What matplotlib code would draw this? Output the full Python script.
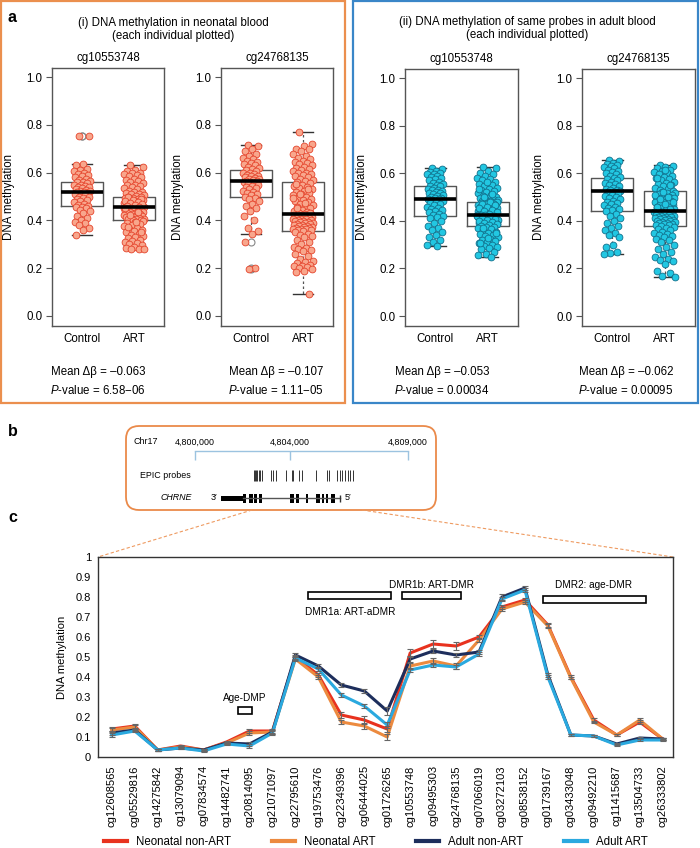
import numpy as np
import matplotlib.pyplot as plt
from matplotlib.patches import Rectangle, FancyBboxPatch
from matplotlib.lines import Line2D

plt.rcParams['font.family'] = ['Liberation Sans', 'DejaVu Sans']
plt.rcParams['mathtext.fontset'] = 'custom'
plt.rcParams['mathtext.rm'] = 'Liberation Sans'
plt.rcParams['mathtext.it'] = 'Liberation Sans:italic'

# ---------------- data: panel a (each individual) ----------------
groups = ['Control', 'ART']
probes_a = ['cg10553748', 'cg24768135']

neo1_ctrl = [0.755, 0.752, 0.635, 0.63, 0.615, 0.61, 0.605, 0.60, 0.595, 0.59, 0.585, 0.58, 0.575, 0.57,
             0.565, 0.56, 0.56, 0.555, 0.55, 0.548, 0.545, 0.54, 0.538, 0.535, 0.53, 0.528, 0.525, 0.522,
             0.52, 0.518, 0.515, 0.512, 0.51, 0.505, 0.50, 0.498, 0.495, 0.49, 0.485, 0.48, 0.475, 0.47,
             0.465, 0.46, 0.458, 0.455, 0.45, 0.445, 0.44, 0.43, 0.42, 0.41, 0.40, 0.395, 0.39, 0.38,
             0.37, 0.36, 0.34]
neo1_art = [0.63, 0.625, 0.61, 0.605, 0.60, 0.60, 0.595, 0.59, 0.585, 0.58, 0.575, 0.57, 0.565, 0.56,
            0.555, 0.55, 0.548, 0.545, 0.54, 0.535, 0.53, 0.525, 0.52, 0.518, 0.515, 0.512, 0.51, 0.505,
            0.502, 0.50, 0.498, 0.495, 0.493, 0.49, 0.488, 0.485, 0.483, 0.48, 0.478, 0.475, 0.473, 0.47,
            0.468, 0.466, 0.464, 0.462, 0.46, 0.458, 0.457, 0.456, 0.497, 0.491, 0.486, 0.481, 0.476,
            0.471, 0.467, 0.463, 0.459, 0.455, 0.453, 0.45, 0.448, 0.446, 0.444, 0.442, 0.44, 0.438,
            0.436, 0.434, 0.432, 0.43, 0.428, 0.426, 0.424, 0.422, 0.42, 0.418, 0.416, 0.414, 0.412,
            0.41, 0.408, 0.406, 0.404, 0.402, 0.40, 0.451, 0.437, 0.421, 0.398, 0.395, 0.39, 0.385,
            0.38, 0.375, 0.37, 0.365, 0.36, 0.355, 0.35, 0.345, 0.34, 0.335, 0.33, 0.325, 0.32, 0.315,
            0.31, 0.305, 0.30, 0.295, 0.29, 0.285, 0.282, 0.28, 0.28, 0.392, 0.372, 0.352]
neo2_ctrl = [0.715, 0.71, 0.70, 0.69, 0.68, 0.67, 0.66, 0.655, 0.65, 0.645, 0.64, 0.635, 0.63, 0.625,
             0.62, 0.615, 0.61, 0.605, 0.60, 0.598, 0.595, 0.59, 0.588, 0.585, 0.58, 0.578, 0.575, 0.572,
             0.57, 0.567, 0.565, 0.562, 0.56, 0.558, 0.555, 0.55, 0.545, 0.54, 0.535, 0.53, 0.525, 0.52,
             0.515, 0.51, 0.505, 0.50, 0.495, 0.49, 0.48, 0.47, 0.46, 0.45, 0.44, 0.42, 0.40, 0.37,
             0.355, 0.345, 0.31, 0.20, 0.198]
neo2_art = [0.77, 0.72, 0.71, 0.70, 0.70, 0.69, 0.68, 0.67, 0.66, 0.655, 0.65, 0.645, 0.64, 0.635,
            0.63, 0.625, 0.62, 0.615, 0.61, 0.605, 0.60, 0.598, 0.595, 0.59, 0.585, 0.58, 0.575, 0.57,
            0.565, 0.56, 0.555, 0.55, 0.545, 0.54, 0.535, 0.53, 0.525, 0.52, 0.515, 0.51, 0.505, 0.50,
            0.495, 0.49, 0.485, 0.48, 0.475, 0.47, 0.465, 0.46, 0.455, 0.45, 0.445, 0.44, 0.435, 0.43,
            0.428, 0.426, 0.552, 0.532, 0.512, 0.492, 0.472, 0.452, 0.432, 0.424, 0.422, 0.42, 0.418,
            0.416, 0.414, 0.412, 0.41, 0.408, 0.406, 0.404, 0.402, 0.40, 0.398, 0.396, 0.394, 0.392,
            0.39, 0.388, 0.386, 0.384, 0.382, 0.38, 0.378, 0.376, 0.374, 0.372, 0.37, 0.368, 0.366,
            0.364, 0.362, 0.36, 0.358, 0.356, 0.35, 0.345, 0.34, 0.335, 0.33, 0.32, 0.31, 0.30, 0.29,
            0.285, 0.28, 0.275, 0.27, 0.26, 0.25, 0.24, 0.23, 0.225, 0.22, 0.215, 0.21, 0.21, 0.205,
            0.20, 0.195, 0.19, 0.185, 0.09]
adu1_ctrl = [0.62, 0.618, 0.61, 0.605, 0.60, 0.598, 0.595, 0.59, 0.585, 0.58, 0.575, 0.57, 0.565, 0.56,
             0.555, 0.55, 0.548, 0.545, 0.54, 0.535, 0.53, 0.528, 0.525, 0.52, 0.518, 0.515, 0.512, 0.51,
             0.505, 0.50, 0.498, 0.495, 0.492, 0.49, 0.488, 0.485, 0.48, 0.475, 0.47, 0.465, 0.46, 0.455,
             0.45, 0.445, 0.44, 0.435, 0.43, 0.425, 0.42, 0.415, 0.41, 0.40, 0.39, 0.38, 0.37, 0.36,
             0.355, 0.34, 0.33, 0.32, 0.31, 0.30, 0.295]
adu1_art = [0.625, 0.62, 0.61, 0.60, 0.595, 0.59, 0.58, 0.575, 0.57, 0.565, 0.56, 0.555, 0.55, 0.545,
            0.54, 0.535, 0.53, 0.525, 0.52, 0.515, 0.51, 0.505, 0.50, 0.498, 0.495, 0.492, 0.49, 0.488,
            0.485, 0.483, 0.48, 0.562, 0.532, 0.512, 0.502, 0.478, 0.476, 0.474, 0.472, 0.47, 0.468,
            0.466, 0.464, 0.462, 0.46, 0.458, 0.456, 0.454, 0.452, 0.45, 0.448, 0.446, 0.444, 0.442,
            0.44, 0.438, 0.436, 0.434, 0.432, 0.43, 0.428, 0.426, 0.477, 0.471, 0.465, 0.459, 0.453,
            0.447, 0.441, 0.435, 0.429, 0.424, 0.422, 0.42, 0.418, 0.416, 0.414, 0.412, 0.41, 0.408,
            0.406, 0.404, 0.402, 0.40, 0.398, 0.396, 0.394, 0.392, 0.39, 0.388, 0.386, 0.384, 0.382,
            0.38, 0.423, 0.419, 0.415, 0.411, 0.407, 0.403, 0.399, 0.395, 0.391, 0.387, 0.383, 0.378,
            0.375, 0.372, 0.37, 0.365, 0.36, 0.355, 0.35, 0.345, 0.34, 0.335, 0.33, 0.325, 0.32, 0.315,
            0.31, 0.305, 0.30, 0.295, 0.29, 0.285, 0.28, 0.27, 0.26, 0.255, 0.25, 0.368, 0.348, 0.328,
            0.308]
adu2_ctrl = [0.655, 0.65, 0.645, 0.64, 0.635, 0.63, 0.625, 0.62, 0.615, 0.61, 0.605, 0.60, 0.595, 0.59,
             0.585, 0.58, 0.575, 0.57, 0.565, 0.56, 0.555, 0.55, 0.545, 0.54, 0.535, 0.53, 0.528, 0.525,
             0.522, 0.52, 0.515, 0.51, 0.505, 0.50, 0.495, 0.49, 0.485, 0.48, 0.475, 0.47, 0.465, 0.46,
             0.455, 0.45, 0.445, 0.44, 0.43, 0.42, 0.41, 0.40, 0.39, 0.38, 0.37, 0.36, 0.35, 0.34, 0.33,
             0.30, 0.29, 0.27, 0.265, 0.26]
adu2_art = [0.635, 0.63, 0.625, 0.62, 0.615, 0.61, 0.605, 0.60, 0.595, 0.59, 0.585, 0.58, 0.575, 0.57,
            0.565, 0.56, 0.555, 0.55, 0.545, 0.54, 0.535, 0.53, 0.527, 0.612, 0.582, 0.552, 0.522, 0.518,
            0.515, 0.512, 0.508, 0.505, 0.502, 0.50, 0.497, 0.494, 0.49, 0.487, 0.484, 0.48, 0.477,
            0.474, 0.47, 0.467, 0.464, 0.46, 0.457, 0.454, 0.45, 0.447, 0.444, 0.442, 0.52, 0.51, 0.50,
            0.49, 0.48, 0.47, 0.46, 0.45, 0.438, 0.436, 0.434, 0.432, 0.43, 0.428, 0.426, 0.424, 0.422,
            0.42, 0.418, 0.416, 0.414, 0.412, 0.41, 0.408, 0.406, 0.404, 0.402, 0.40, 0.398, 0.396,
            0.394, 0.392, 0.39, 0.388, 0.386, 0.384, 0.382, 0.38, 0.375, 0.37, 0.365, 0.36, 0.355, 0.35,
            0.345, 0.34, 0.335, 0.33, 0.325, 0.32, 0.31, 0.30, 0.29, 0.28, 0.27, 0.26, 0.25, 0.24, 0.235,
            0.23, 0.22, 0.19, 0.18, 0.17, 0.165]

# box statistics: whislo, q1, med, q3, whishi
neo1_ctrl_box = [0.34, 0.46, 0.52, 0.56, 0.635]
neo1_art_box = [0.28, 0.40, 0.455, 0.50, 0.63]
neo2_ctrl_box = [0.345, 0.50, 0.565, 0.61, 0.715]
neo2_art_box = [0.09, 0.355, 0.425, 0.56, 0.77]
adu1_ctrl_box = [0.295, 0.42, 0.49, 0.545, 0.62]
adu1_art_box = [0.25, 0.38, 0.425, 0.48, 0.625]
adu2_ctrl_box = [0.26, 0.44, 0.525, 0.58, 0.655]
adu2_art_box = [0.165, 0.38, 0.44, 0.525, 0.635]
neo1_ctrl_fliers = [0.755, 0.752]
neo2_ctrl_fliers = [0.31, 0.20, 0.198]

mean_db = ['\u20130.063', '\u20130.107', '\u20130.053', '\u20130.062']
pvals = ['6.58\u221206', '1.11\u221205', '0.00034', '0.00095']

# ---------------- data: panel b ----------------
chr_ticks = [4800000, 4804000, 4809000]
epic_probes_kb = [2.51, 2.55, 2.59, 2.64, 2.70, 2.77, 2.85, 3.20, 3.32, 3.44, 3.85, 4.10, 4.14, 4.39,
                  4.54, 5.10, 5.58, 5.66, 6.01, 6.12, 6.23, 6.33, 6.47, 6.57, 6.69]
utr_kb = [1.12, 2.05]
exons_kb = [(2.03, 2.17), (2.29, 2.44), (2.49, 2.64), (2.72, 2.85), (4.00, 4.20), (4.28, 4.39),
            (4.71, 4.80), (5.12, 5.27), (5.35, 5.47), (5.52, 5.64), (5.74, 5.91)]
gene_end_kb = 6.13

# ---------------- data: panel c ----------------
probes_c = ['cg12608565', 'cg05529816', 'cg14275842', 'cg13079094', 'cg07834574', 'cg14482741',
            'cg20814095', 'cg21071097', 'cg22795610', 'cg19753476', 'cg22349396', 'cg06444025',
            'cg01726265', 'cg10553748', 'cg09495303', 'cg24768135', 'cg07066019', 'cg03272103',
            'cg08538152', 'cg01739167', 'cg03433048', 'cg09492210', 'cg11415687', 'cg13504733',
            'cg26333802']
series_names = ['Neonatal non-ART', 'Neonatal ART', 'Adult non-ART', 'Adult ART']
neo_nonart = [0.14, 0.155, 0.035, 0.055, 0.035, 0.075, 0.13, 0.13, 0.50, 0.41, 0.21, 0.185, 0.14,
              0.52, 0.565, 0.555, 0.60, 0.75, 0.785, 0.66, 0.40, 0.185, 0.11, 0.175, 0.09]
neo_art = [0.135, 0.15, 0.035, 0.05, 0.035, 0.07, 0.12, 0.125, 0.49, 0.40, 0.175, 0.155, 0.10,
           0.455, 0.48, 0.455, 0.585, 0.74, 0.775, 0.655, 0.395, 0.175, 0.11, 0.185, 0.09]
adu_nonart = [0.12, 0.135, 0.035, 0.045, 0.035, 0.07, 0.065, 0.125, 0.51, 0.455, 0.36, 0.33, 0.23,
              0.49, 0.53, 0.51, 0.525, 0.80, 0.845, 0.41, 0.11, 0.105, 0.065, 0.095, 0.09]
adu_art = [0.11, 0.13, 0.035, 0.045, 0.03, 0.065, 0.055, 0.12, 0.495, 0.44, 0.31, 0.255, 0.16,
           0.435, 0.46, 0.45, 0.515, 0.79, 0.835, 0.40, 0.11, 0.105, 0.06, 0.085, 0.085]
neo_nonart_err = [0.01, 0.008, 0.004, 0.005, 0.004, 0.006, 0.008, 0.008, 0.012, 0.012, 0.015, 0.018,
                  0.015, 0.02, 0.02, 0.02, 0.012, 0.012, 0.01, 0.008, 0.008, 0.008, 0.006, 0.008, 0.006]
neo_art_err = [0.008, 0.008, 0.004, 0.004, 0.004, 0.006, 0.008, 0.008, 0.01, 0.01, 0.012, 0.015,
               0.015, 0.015, 0.015, 0.015, 0.012, 0.01, 0.01, 0.008, 0.006, 0.006, 0.006, 0.008, 0.006]
adu_nonart_err = [0.008, 0.006, 0.004, 0.004, 0.004, 0.006, 0.012, 0.01, 0.012, 0.01, 0.012, 0.012,
                  0.02, 0.015, 0.012, 0.012, 0.01, 0.015, 0.012, 0.008, 0.006, 0.006, 0.006, 0.006, 0.006]
adu_art_err = [0.008, 0.006, 0.004, 0.004, 0.004, 0.006, 0.012, 0.008, 0.01, 0.01, 0.01, 0.01,
               0.015, 0.012, 0.012, 0.012, 0.01, 0.012, 0.01, 0.01, 0.006, 0.006, 0.006, 0.006, 0.006]
series_colors = ['#e8321e', '#ec8a3f', '#1d2e5c', '#2aa9df']

# ---------------- figure ----------------
W, H = 700, 848
fig = plt.figure(figsize=(7, 8.48), dpi=100)


def rect(l, t, r, b):
    return [l / W, 1 - b / H, (r - l) / W, (b - t) / H]


ov = fig.add_axes([0, 0, 1, 1], zorder=-1)
ov.set_xlim(0, W)
ov.set_ylim(H, 0)
ov.axis('off')

FS = 8.3
GREY = '#555555'


def stats(b, fliers=()):
    return dict(whislo=b[0], q1=b[1], med=b[2], q3=b[3], whishi=b[4], fliers=list(fliers))


def jitter(n, width):
    # evenly spread horizontal offsets (golden-ratio sequence)
    return ((np.arange(n) * 0.6180339887 + 0.3) % 1 - 0.5) * width


def box_panel(r, probe, ctrl, art, cbox, abox, cfl, afl, fill, edge):
    ax = fig.add_axes(rect(*r))
    ax.bxp([stats(cbox, cfl), stats(abox, afl)], positions=[1, 2], widths=0.8, capwidths=0.4,
           boxprops=dict(color=GREY, lw=1), whiskerprops=dict(color=GREY, lw=0.9, ls=(0, (2, 2))),
           capprops=dict(color='#333333', lw=1), medianprops=dict(color='black', lw=2.6, zorder=4),
           flierprops=dict(marker='o', mfc='none', mec='#888888', ms=5, mew=0.8), showfliers=True)
    for pos, pts, w in [(1, ctrl, 0.32), (2, art, 0.40)]:
        ax.scatter(pos + jitter(len(pts), w), pts, s=24, facecolor=fill, edgecolor=edge, lw=0.6,
                   zorder=3)
    ax.set_xlim(0.42, 2.58)
    ax.set_ylim(-0.042, 1.038)
    ax.set_yticks(np.arange(0, 1.01, 0.2))
    ax.set_yticklabels(['%.1f' % v for v in np.arange(0, 1.01, 0.2)])
    ax.set_xticks([1, 2], groups)
    ax.tick_params(axis='x', length=0, pad=5, labelsize=FS)
    ax.tick_params(axis='y', length=4, color=GREY, labelsize=FS, pad=3)
    for s in ax.spines.values():
        s.set_color(GREY)
        s.set_linewidth(1)
    ax.set_title(probe, fontsize=FS, pad=5)
    ax.set_ylabel('DNA methylation', fontsize=FS)
    ax.yaxis.set_label_coords(-0.33, 0.5)
    return ax


neo_fill, neo_edge = '#f8a68c', '#e5432b'
adu_fill, adu_edge = '#22c7e2', '#12708c'
box_panel((52, 68, 164, 326), probes_a[0], neo1_ctrl, neo1_art, neo1_ctrl_box, neo1_art_box,
          neo1_ctrl_fliers, [], neo_fill, neo_edge)
box_panel((221, 68, 333, 326), probes_a[1], neo2_ctrl, neo2_art, neo2_ctrl_box, neo2_art_box,
          neo2_ctrl_fliers, [], neo_fill, neo_edge)
box_panel((405, 69, 518, 326), probes_a[0], adu1_ctrl, adu1_art, adu1_ctrl_box, adu1_art_box,
          [], [], adu_fill, adu_edge)
box_panel((582, 69, 695, 326), probes_a[1], adu2_ctrl, adu2_art, adu2_ctrl_box, adu2_art_box,
          [], [], adu_fill, adu_edge)

# frames and titles for panel a
ov.add_patch(Rectangle((1, 1), 344, 402, fill=False, ec='#eb8f4e', lw=1.6))
ov.add_patch(Rectangle((353, 1), 345, 402, fill=False, ec='#3a86c8', lw=1.6))
ov.text(8, 18, 'a', fontsize=11.5, fontweight='bold', ha='left', va='center')
ov.text(173, 23, '(i) DNA methylation in neonatal blood', fontsize=FS, ha='center', va='center')
ov.text(173, 36, '(each individual plotted)', fontsize=FS, ha='center', va='center')
ov.text(527, 22, '(ii) DNA methylation of same probes in adult blood', fontsize=FS,
        ha='center', va='center')
ov.text(527, 35, '(each individual plotted)', fontsize=FS, ha='center', va='center')
for cx, db, pv in zip([98, 276, 442, 626], mean_db, pvals):
    ov.text(cx, 372, 'Mean \u0394\u03b2 = ' + db, fontsize=FS, ha='center', va='center')
    ov.text(cx, 391, r'$\mathit{P}$-value = ' + pv, fontsize=FS, ha='center', va='center')

# ---------------- panel b ----------------
ov.text(8, 432, 'b', fontsize=11.5, fontweight='bold', ha='left', va='center')
ov.text(8, 517, 'c', fontsize=11.5, fontweight='bold', ha='left', va='center')
ov.add_patch(FancyBboxPatch((126, 426), 310, 84, boxstyle='round,pad=0,rounding_size=13',
                            fill=False, ec='#ea8a4a', lw=1.3))
ov.text(133, 442, 'Chr17', fontsize=6.4, ha='left', va='center')
ov.text(165, 475, 'EPIC probes', fontsize=6.4, ha='center', va='center')
ov.text(176, 498, 'CHRNE', fontsize=6.4, ha='center', va='center', style='italic')
ov.text(214, 498, '3\u2032', fontsize=6.4, ha='center', va='center')
ov.text(348, 498, '5\u2032', fontsize=6.4, ha='center', va='center')
ov.plot([252, 98], [510, 557], color='#ee9a60', lw=0.8, ls=(0, (3, 2)))
ov.plot([362, 673], [510, 557], color='#ee9a60', lw=0.8, ls=(0, (3, 2)))

bx = fig.add_axes(rect(126, 426, 436, 510))
bx.set_xlim(4797100, 4810180)
bx.set_ylim(510, 426)
bx.axis('off')
for t in chr_ticks:
    bx.text(t, 442, '{:,}'.format(t), fontsize=6.4, ha='center', va='center')
bx.plot([chr_ticks[0], chr_ticks[-1]], [450.5, 450.5], color='#9cc3e0', lw=1)
bx.vlines(chr_ticks, 450.5, 459.5, color='#9cc3e0', lw=1)
bx.vlines([4800000 + k * 1000 for k in epic_probes_kb], 470, 481, color='#333333', lw=0.7)
bx.plot([4800000 + utr_kb[1] * 1000, 4800000 + gene_end_kb * 1000], [498, 498], color='#555555',
        lw=1)
bx.add_patch(Rectangle((4800000 + utr_kb[0] * 1000, 495.5), (utr_kb[1] - utr_kb[0]) * 1000, 5,
                       color='black', lw=0))
for s, e in exons_kb:
    bx.add_patch(Rectangle((4800000 + s * 1000, 494), (e - s) * 1000, 8.5, color='black', lw=0))
bx.vlines([4800000 + gene_end_kb * 1000], 494.5, 501.5, color='#333333', lw=1)

# ---------------- panel c ----------------
cx_ = fig.add_axes(rect(98, 557, 673, 757))
x = np.arange(len(probes_c))
vals = [neo_nonart, neo_art, adu_nonart, adu_art]
errs = [neo_nonart_err, neo_art_err, adu_nonart_err, adu_art_err]
for v, e, c, name in zip(vals, errs, series_colors, series_names):
    cx_.plot(x, v, color=c, lw=2.2, label=name, zorder=2, solid_joinstyle='round')
    cx_.errorbar(x, v, yerr=e, fmt='none', ecolor='#666666', elinewidth=0.8, capsize=2.5,
                 capthick=0.8, zorder=3)
cx_.set_xlim(-0.6, 24.45)
cx_.set_ylim(0, 1)
cx_.set_yticks(np.arange(0, 1.01, 0.1))
cx_.set_yticklabels(['0', '0.1', '0.2', '0.3', '0.4', '0.5', '0.6', '0.7', '0.8', '0.9', '1'])
cx_.set_xticks(x, probes_c, rotation=90)
cx_.tick_params(axis='both', length=0, labelsize=8)
cx_.tick_params(axis='y', pad=5)
cx_.tick_params(axis='x', pad=6)
for s in cx_.spines.values():
    s.set_color('#333333')
    s.set_linewidth(1)
cx_.set_ylabel('DNA methylation', fontsize=8)
cx_.yaxis.set_label_coords(-0.054, 0.5)

# region annotations
for (x0, x1, y0, y1) in [(5.49, 6.1, 0.215, 0.25), (8.54, 12.16, 0.79, 0.825),
                         (12.63, 15.2, 0.79, 0.825), (18.8, 23.26, 0.77, 0.805)]:
    cx_.add_patch(Rectangle((x0, y0), x1 - x0, y1 - y0, fill=False, ec='black', lw=1.2, zorder=4))
cx_.text(5.8, 0.296, 'Age-DMP', fontsize=7.2, ha='center', va='center')
cx_.text(10.37, 0.725, 'DMR1a: ART-aDMR', fontsize=7.2, ha='center', va='center')
cx_.text(13.94, 0.86, 'DMR1b: ART-DMR', fontsize=7.2, ha='center', va='center')
cx_.text(21.0, 0.86, 'DMR2: age-DMR', fontsize=7.2, ha='center', va='center')

handles = [Line2D([0], [0], color=c, lw=3) for c in series_colors]
fig.legend(handles, series_names, loc='center', bbox_to_anchor=(376 / W, 1 - 842 / H), ncol=4,
           frameon=False, fontsize=8.3, handlelength=2, handletextpad=0.8, columnspacing=3.5)

fig.savefig('out.png', dpi=100)
